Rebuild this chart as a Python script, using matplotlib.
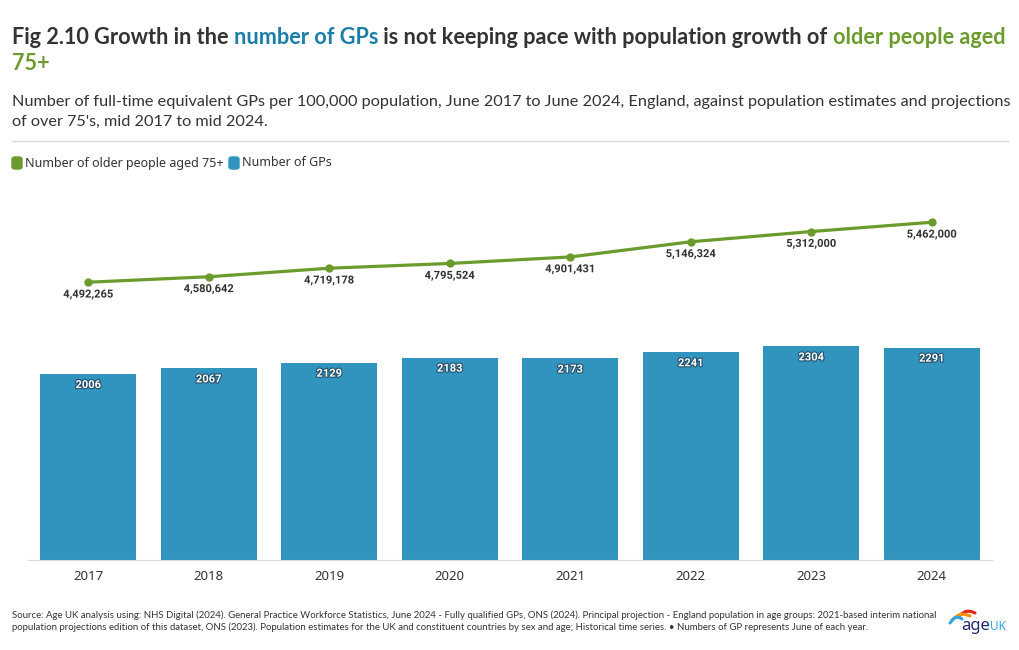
import matplotlib.pyplot as plt
import matplotlib.patheffects as pe
from matplotlib.patches import FancyBboxPatch
import numpy as np

years = ["2017", "2018", "2019", "2020", "2021", "2022", "2023", "2024"]
gps = [2006, 2067, 2129, 2183, 2173, 2241, 2304, 2291]
older_75 = [4492265, 4580642, 4719178, 4795524, 4901431, 5146324, 5312000, 5462000]

BAR_C = "#3094BE"
LINE_C = "#6B9B2C"
BLUE_T = "#1B7DA8"
DARK = "#333333"

head = ["Lato", "DejaVu Sans"]
sans = ["Noto Sans", "DejaVu Sans"]
lab_font = ["Roboto", "DejaVu Sans"]

W, H = 1020, 650
fig = plt.figure(figsize=(W / 100, H / 100), dpi=100)


def fx(px):
    return px / W


def fy(py):
    return 1 - py / H


# plot area
ax = fig.add_axes([fx(28), fy(560), fx(964), 371 / H])
x = np.arange(len(years))
ax.bar(x, gps, width=0.8, color=BAR_C, zorder=2)
ax.set_ylim(0, 4000)
ax.set_xlim(-0.5, len(years) - 0.5)
for s in ["left", "right", "top"]:
    ax.spines[s].set_visible(False)
ax.spines["bottom"].set_color("#d9d9d9")
ax.set_yticks([])
ax.set_xticks(x)
ax.set_xticklabels(years, fontsize=9.5, color=DARK, family=sans)
ax.tick_params(axis="x", length=0, pad=7)

for xi, v in zip(x, gps):
    ax.annotate(str(v), (xi, v), xytext=(0, -8), textcoords="offset points",
                ha="center", va="center", color="white", fontsize=8, fontweight="bold",
                family=lab_font,
                path_effects=[pe.withStroke(linewidth=1.6, foreground="#24506a")])

ax2 = ax.twinx()
ax2.plot(x, older_75, color=LINE_C, lw=2.3, marker="o", ms=5, zorder=3)
ax2.set_ylim(0, 6000000)
ax2.set_yticks([])
for s in ["left", "right", "top", "bottom"]:
    ax2.spines[s].set_visible(False)
for xi, v in zip(x, older_75):
    ax2.annotate(f"{v:,}", (xi, v), xytext=(0, -9), textcoords="offset points",
                 ha="center", va="center", color=DARK, fontsize=8, fontweight="bold",
                 family=lab_font,
                 path_effects=[pe.withStroke(linewidth=2, foreground="white")])

# title in coloured pieces
TS = 15.6
title1 = [("Fig 2.10 Growth in the ", DARK), ("number of GPs", BLUE_T),
          (" is not keeping pace with population growth of ", DARK),
          ("older people aged", LINE_C)]
prev = fig.text(fx(12), fy(48), title1[0][0], color=title1[0][1], fontsize=TS,
                fontweight="bold", family=head, va="bottom")
for txt, col in title1[1:]:
    prev = ax.annotate(txt, xy=(1, 0), xycoords=prev, va="bottom", ha="left",
                       color=col, fontsize=TS, fontweight="bold", family=head,
                       annotation_clip=False)
fig.text(fx(12), fy(74), "75+", color=LINE_C, fontsize=TS, fontweight="bold",
         family=head, va="bottom")

fig.text(fx(12), fy(102), "Number of full-time equivalent GPs per 100,000 population, June 2017 to June 2024, "
         "England, against population estimates and projections", color=DARK, fontsize=11.7,
         family=head, va="center")
fig.text(fx(12), fy(122), "of over 75's, mid 2017 to mid 2024.", color=DARK, fontsize=11.7,
         family=head, va="center")

fig.add_artist(plt.Line2D([fx(12), fx(1008)], [fy(141), fy(141)], color="#d9d9d9", lw=1))

# legend
for x0, col, lab in [(12, LINE_C, "Number of older people aged 75+"), (229, BAR_C, "Number of GPs")]:
    fig.add_artist(FancyBboxPatch((fx(x0), fy(169)), fx(10), 12 / H,
                                  boxstyle="round,pad=0,rounding_size=0.003",
                                  color=col, transform=fig.transFigure))
    fig.text(fx(x0 + 13), fy(163), lab, color=DARK, fontsize=9, family=sans, va="center")

# source
fig.text(fx(12), fy(615), "Source: Age UK analysis using: NHS Digital (2024). General Practice Workforce Statistics, "
         "June 2024 - Fully qualified GPs, ONS (2024). Principal projection - England population in age groups: "
         "2021-based interim national", color=DARK, fontsize=6.9, family=head, va="center")
fig.text(fx(12), fy(627), "population projections edition of this dataset, ONS (2023). Population estimates for the UK "
         "and constituent countries by sex and age; Historical time series. \u2022 Numbers of GP represents June of each year.",
         color=DARK, fontsize=6.9, family=head, va="center")

# logo
t = np.linspace(0, 1, 20)
for col, dy, x0, x1 in [("#e2231a", 0, 958, 975), ("#f39200", 3, 952, 970), ("#2fa8e0", 6, 950, 962)]:
    xs = x0 + (x1 - x0) * t
    ys = 617 + dy - 6 * np.sin(np.pi * t) * 0.6 - 4 * t
    fig.add_artist(plt.Line2D(fx(xs), fy(ys), color=col, lw=2.2, solid_capstyle="round"))
lg = fig.text(fx(961), fy(626), "age", color="#1f2a6b", fontsize=12, fontweight="bold",
              family=sans, va="center")
ax.annotate("UK", xy=(1, 0.45), xycoords=lg, va="center", ha="left", color="#2fa8e0",
            fontsize=8.5, fontweight="bold", family=sans, annotation_clip=False)

fig.savefig("out.png", dpi=100)
